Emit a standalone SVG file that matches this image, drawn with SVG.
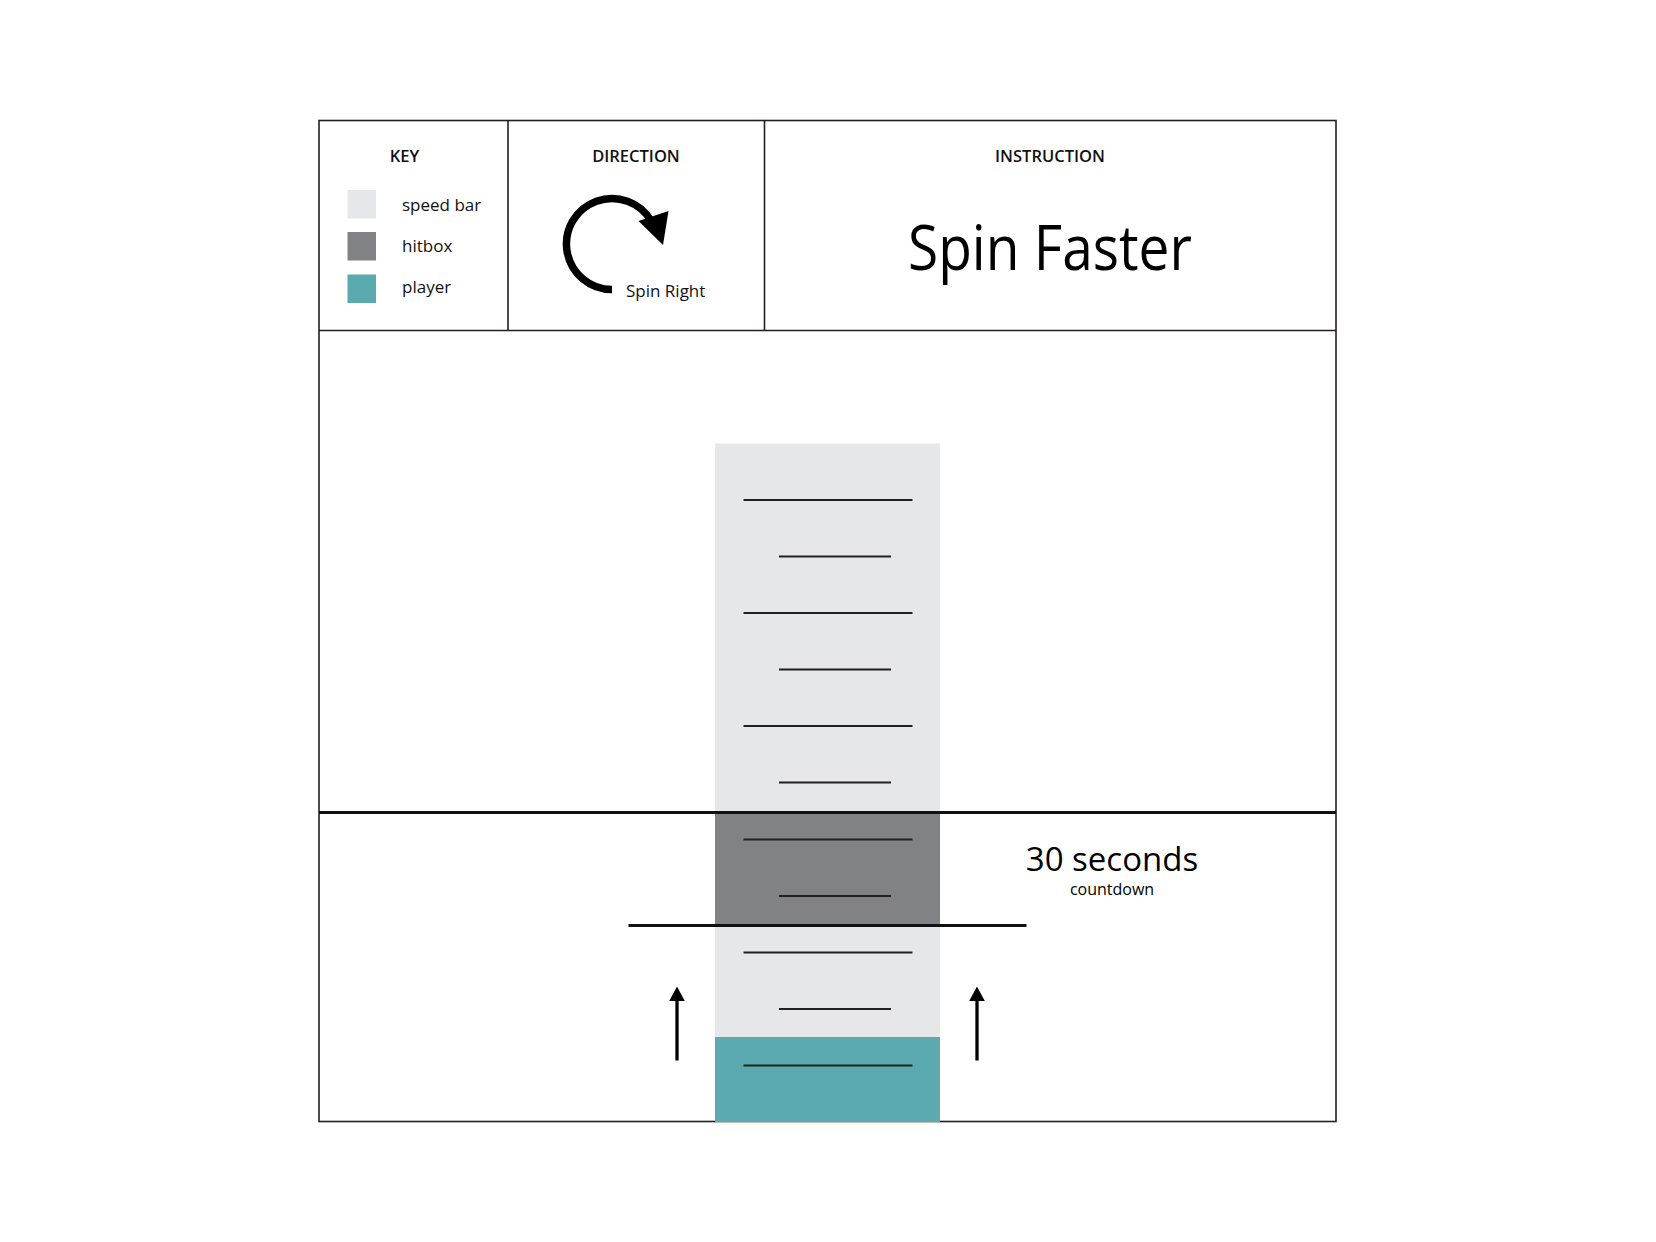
<svg xmlns="http://www.w3.org/2000/svg" width="1656" height="1242" viewBox="0 0 1656 1242">
  <style>
    .frame { fill: none; stroke: #231f20; stroke-width: 1.6; }
    .thick { stroke: #111; stroke-width: 3.2; fill: none; }
    .tick { stroke: #231f20; stroke-width: 1.8; }
    .head { font-family: "Open Sans", "Liberation Sans", sans-serif; font-weight: 600; font-size: 16.5px; fill: #111; text-anchor: middle; }
    .lbl { font-family: "Open Sans", "Liberation Sans", sans-serif; font-size: 17px; fill: #111; }
    .bar { fill: #e6e7e8; }
    .hit { fill: #808285; }
    .player { fill: #5baab0; }
  </style>
  <rect width="1656" height="1242" fill="#ffffff"/>

  <!-- outer frame and header panels -->
  <g id="frame">
    <rect class="frame" x="319" y="120.5" width="1017" height="1001"/>
    <line class="frame" x1="319" y1="330.5" x2="1336" y2="330.5"/>
    <line class="frame" x1="508" y1="120.5" x2="508" y2="330.5"/>
    <line class="frame" x1="764.5" y1="120.5" x2="764.5" y2="330.5"/>
  </g>

  <g id="key">
    <text class="head" x="404.5" y="161.5">KEY</text>
    <rect class="bar" x="347.5" y="190" width="28.5" height="28.5"/>
    <rect class="hit" x="347.5" y="232" width="28.5" height="28.5"/>
    <rect class="player" x="347.5" y="274.5" width="28.5" height="28.5"/>
    <text class="lbl" x="402" y="211">speed bar</text>
    <text class="lbl" x="402" y="252">hitbox</text>
    <text class="lbl" x="402" y="292.5">player</text>
  </g>

  <g id="direction">
    <text class="head" x="636" y="161.5">DIRECTION</text>
    <path d="M612 289.5 A45.5 45.5 0 1 1 651.4 221.3" fill="none" stroke="#000" stroke-width="7.5"/>
    <path d="M638.5 221 L668.5 211 L663 245 Z" fill="#000"/>
    <text class="lbl" x="626" y="296.5">Spin Right</text>
  </g>

  <g id="instruction">
    <text class="head" x="1050" y="161.5">INSTRUCTION</text>
    <text x="1050" y="270" font-family="'Open Sans', 'Liberation Sans', sans-serif" font-size="62" text-anchor="middle" textLength="284" lengthAdjust="spacingAndGlyphs" fill="#000">Spin Faster</text>
  </g>

  <!-- speed bar with hitbox zone and player level -->
  <g id="speed-bar">
    <rect class="bar" x="715" y="443.5" width="225" height="678"/>
    <rect class="hit" x="715" y="812" width="225" height="113"/>
    <rect class="player" x="715" y="1037" width="225" height="85"/>
    <line class="tick" x1="743.5" y1="500" x2="912.5" y2="500"/>
    <line class="tick" x1="779" y1="556.5" x2="891" y2="556.5"/>
    <line class="tick" x1="743.5" y1="613" x2="912.5" y2="613"/>
    <line class="tick" x1="779" y1="669.5" x2="891" y2="669.5"/>
    <line class="tick" x1="743.5" y1="726" x2="912.5" y2="726"/>
    <line class="tick" x1="779" y1="782.5" x2="891" y2="782.5"/>
    <line class="tick" x1="743.5" y1="839.5" x2="912.5" y2="839.5"/>
    <line class="tick" x1="779" y1="896" x2="891" y2="896"/>
    <line class="tick" x1="743.5" y1="952.5" x2="912.5" y2="952.5"/>
    <line class="tick" x1="779" y1="1009" x2="891" y2="1009"/>
    <line class="tick" x1="743.5" y1="1065.5" x2="912.5" y2="1065.5"/>
  </g>

  <g id="limits">
    <line class="thick" x1="319" y1="812.5" x2="1336" y2="812.5"/>
    <line class="thick" x1="628.5" y1="925.5" x2="1026.5" y2="925.5"/>
  </g>

  <g id="timer">
    <text x="1112" y="871" font-family="'Open Sans', 'Liberation Sans', sans-serif" font-size="33" text-anchor="middle" fill="#000">30 seconds</text>
    <text x="1112" y="895" font-family="'Open Sans', 'Liberation Sans', sans-serif" font-size="16" text-anchor="middle" fill="#000">countdown</text>
  </g>

  <!-- upward movement arrows -->
  <g id="connectors">
    <line x1="677" y1="1060.5" x2="677" y2="995" stroke="#000" stroke-width="3.3"/>
    <path d="M669.2 1001 L677 986.5 L684.8 1001 Z" fill="#000"/>
    <line x1="977" y1="1060.5" x2="977" y2="995" stroke="#000" stroke-width="3.3"/>
    <path d="M969.2 1001 L977 986.5 L984.8 1001 Z" fill="#000"/>
  </g>
</svg>
